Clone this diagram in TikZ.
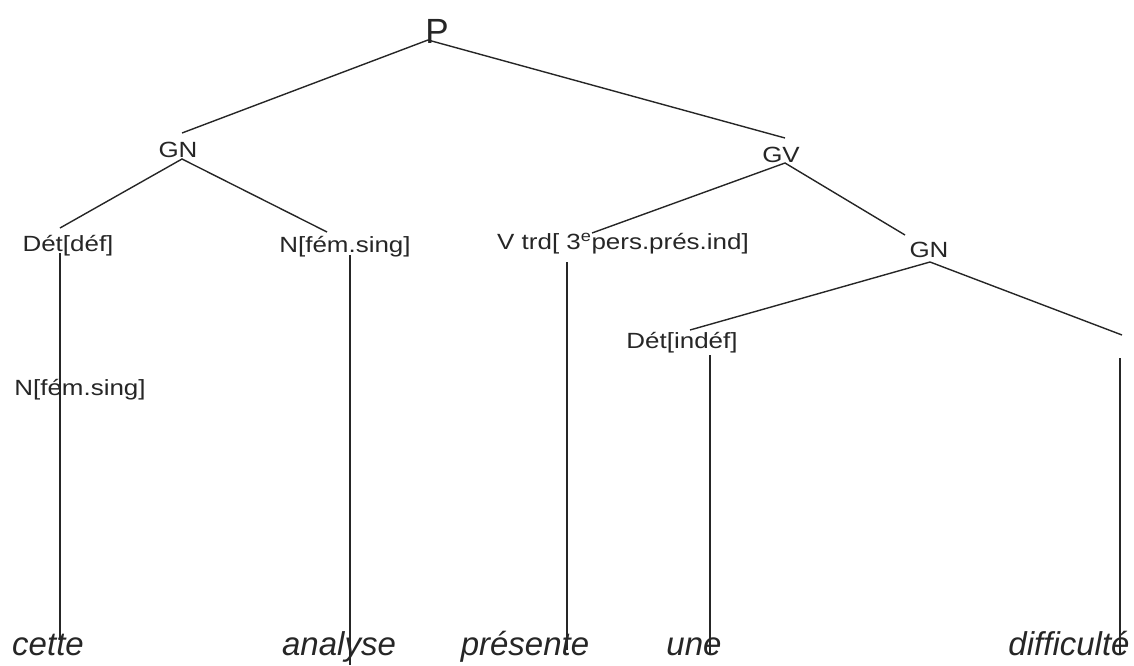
\documentclass[tikz,border=0pt]{standalone}
\usepackage{fontspec}
\setmainfont{Liberation Sans}
\newfontfamily\labfont[FakeStretch=1.18]{Liberation Sans}
\newfontfamily\wordfont{Liberation Sans}
\begin{document}
\begin{tikzpicture}[x=1pt,y=-1pt,
  branch/.style={draw=black!85, line width=1.4pt},
  cat/.style={anchor=base, inner sep=0pt, font=\labfont\fontsize{22}{26}\selectfont, text=black!85},
  root/.style={anchor=base, inner sep=0pt, font=\fontsize{35}{40}\selectfont, text=black!85},
  word/.style={anchor=base, inner sep=0pt, font=\wordfont\itshape\fontsize{33}{38}\selectfont, text=black!85}]
\useasboundingbox (0,0) rectangle (1134,665);

% category labels
\node[root] (P) at (437,43) {P};
\node[cat] (gn1) at (178,157) {GN};
\node[cat] (gv) at (781,162) {GV};
\node[cat] (gn2) at (929,257) {GN};
\node[cat] (det1) at (68,251) {Dét[déf]};
\node[cat] (n1) at (345,252) {N[fém.sing]};
\node[cat] (v) at (623,249) {V trd[ 3\textsuperscript{e}pers.prés.ind]};
\node[cat] (det2) at (682,348) {Dét[indéf]};
\node[cat] (n0) at (80,395) {N[fém.sing]};

% terminal words
\node[word] (w1) at (48,655) {cette};
\node[word] (w2) at (339,655) {analyse};
\node[word] (w3) at (525,655) {présente};
\node[word] (w4) at (694,655) {une};
\node[word] (w5) at (1069,655) {difficulté};

% branch points
\coordinate (P-b) at (428,40);
\coordinate (gn1-t) at (182,133);
\coordinate (gn1-b) at (182,159);
\coordinate (gv-t) at (785,138);
\coordinate (gv-b) at (785,163);
\coordinate (gn2-t) at (905,235);
\coordinate (gn2-b) at (930,262);
\coordinate (det1-t) at (60,228);
\coordinate (n1-t) at (327,232);
\coordinate (v-t) at (592,233);
\coordinate (det2-t) at (690,330);
\coordinate (n2-t) at (1122,335);

% stems down to the words
\coordinate (det1-s) at (60,253);
\coordinate (w1-s) at (60,640);
\coordinate (n1-s) at (350,255);
\coordinate (w2-s) at (350,665);
\coordinate (v-s) at (567,262);
\coordinate (w3-s) at (567,650);
\coordinate (det2-s) at (710,355);
\coordinate (w4-s) at (710,655);
\coordinate (n2-s) at (1120,358);
\coordinate (w5-s) at (1120,655);

\draw[branch] (gn1-t) -- (P-b) -- (gv-t);
\draw[branch] (det1-t) -- (gn1-b) -- (n1-t);
\draw[branch] (v-t) -- (gv-b) -- (gn2-t);
\draw[branch] (det2-t) -- (gn2-b) -- (n2-t);

\draw[branch] (det1-s) -- (w1-s);
\draw[branch] (n1-s) -- (w2-s);
\draw[branch] (v-s) -- (w3-s);
\draw[branch] (det2-s) -- (w4-s);
\draw[branch] (n2-s) -- (w5-s);
\end{tikzpicture}
\end{document}
